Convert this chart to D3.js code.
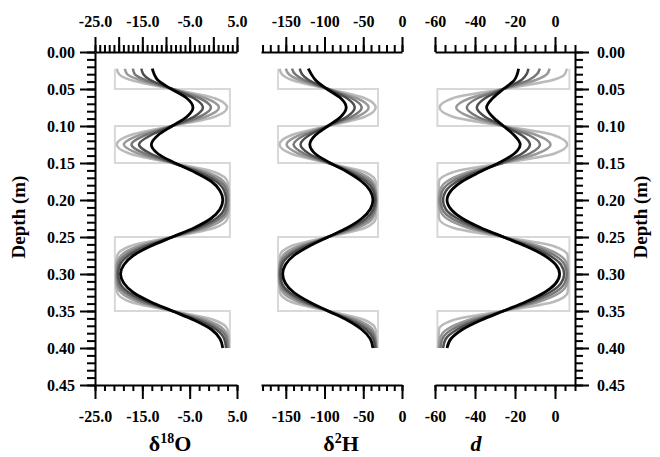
<!DOCTYPE html>
<html lang="en">
<head>
<meta charset="UTF-8">
<title>Isotope depth profiles</title>
<script src="https://d3js.org/d3.v7.min.js"></script>
<style>
  body { margin: 0; background: #fff; }
  svg { display: block; }
</style>
</head>
<body>
<div id="chart"></div>
<script>
// sample depths (m)
const depth = [0.0225, 0.03, 0.0375, 0.05, 0.0625, 0.075, 0.0875, 0.10, 0.1125, 0.125, 0.1375, 0.15,
  0.1625, 0.175, 0.1875, 0.20, 0.2125, 0.225, 0.2375, 0.25, 0.2625, 0.275, 0.2875, 0.30,
  0.3125, 0.325, 0.3375, 0.35, 0.3625, 0.375, 0.3875, 0.40];

// five profiles each, lightest (least smoothed) first, black last
const o18 = [
  [-20.4, -19.9, -17.6, -8.7, 0.3, 2.9, 0.3, -8.7, -17.6, -20.4, -17.6, -8.65, 0.3, 3.0, 3.3, 3.3, 3.3, 3.0, 0.3, -8.65, -17.6, -20.3, -20.6, -20.6, -20.6, -20.3, -17.6, -8.65, 0.3, 3.0, 3.3, 3.3],
  [-18.7, -18.2, -15.7, -8.7, -1.6, 1.2, -1.6, -8.7, -15.7, -18.9, -15.7, -8.65, -1.4, 2.2, 3.1, 3.2, 3.1, 2.2, -1.4, -8.65, -15.9, -19.5, -20.4, -20.5, -20.4, -19.5, -15.9, -8.65, -1.4, 2.2, 3.1, 3.2],
  [-17.0, -16.6, -14.5, -8.7, -2.9, -0.5, -2.9, -8.7, -14.4, -17.3, -14.4, -8.6, -2.4, 1.4, 2.8, 3.0, 2.8, 1.4, -2.4, -8.65, -14.9, -18.7, -20.1, -20.3, -20.1, -18.7, -14.9, -8.65, -2.4, 1.4, 2.8, 3.0],
  [-15.2, -14.8, -13.4, -8.7, -4.1, -2.2, -4.1, -8.7, -13.2, -15.7, -13.2, -8.4, -3.2, 0.6, 2.3, 2.7, 2.3, 0.6, -3.2, -8.65, -14.1, -17.9, -19.7, -20.1, -19.7, -17.9, -14.1, -8.65, -3.2, 0.6, 2.3, 2.7],
  [-12.9, -12.5, -11.8, -8.9, -5.6, -4.3, -5.6, -8.7, -11.7, -13.1, -11.7, -8.1, -3.9, -0.4, 1.4, 2.0, 1.4, -0.5, -4.0, -8.65, -13.3, -16.9, -18.9, -19.6, -18.9, -16.9, -13.3, -8.65, -4.0, -0.4, 1.4, 2.0]
];
const h2 = [
  [-158, -155, -143, -95.5, -48, -34, -48, -95.5, -143, -158, -143, -95.5, -47.5, -34, -33, -32.5, -33, -34, -47.5, -95.5, -143.5, -157.5, -158.5, -159, -158.5, -157.5, -143.5, -95.5, -47.5, -34, -33, -32.5],
  [-150, -146, -133, -95.5, -58, -43, -58, -95.5, -133, -149, -133, -95.5, -57, -38, -34, -33, -34, -38, -57, -95.5, -134, -153.5, -158, -158.5, -158, -153.5, -134, -95.5, -57, -38, -34, -33],
  [-142, -138, -127, -95.5, -65, -52, -65, -95.5, -126, -140, -126, -95, -62.5, -42, -35, -33.5, -35, -42, -62.5, -95.5, -128.5, -149, -157, -158, -157, -149, -128.5, -95.5, -62.5, -42, -35, -33.5],
  [-132, -129, -121, -95.5, -71, -61, -71, -95.5, -120, -131, -120, -94, -66.5, -46.5, -37, -34.5, -37, -46.5, -66.5, -95.5, -124.5, -145, -155, -157, -155, -145, -124.5, -95.5, -66.5, -46.5, -37, -34.5],
  [-121, -117, -112, -97, -79, -72, -79, -95.5, -112, -119, -112, -92.5, -70, -52, -41, -37.5, -41, -52, -70.5, -95.5, -120, -139.5, -150.5, -154, -150.5, -139.5, -120, -95.5, -70.5, -52, -41, -37.5]
];
const dex = [
  [5.9, 4.9, -0.7, -25.8, -51.1, -57.7, -51.1, -25.8, -0.5, 6.1, -0.5, -25.8, -51.1, -58.0, -58.2, -58.4, -58.2, -58.0, -51.1, -25.8, -0.5, 6.3, 6.6, 6.8, 6.6, 6.3, -0.5, -25.8, -51.1, -58.0, -58.2, -58.4],
  [-2.7, -4.0, -9.3, -25.8, -42.6, -49.4, -42.6, -25.8, -9.0, -2.2, -9.0, -25.9, -43.6, -54.1, -57.5, -58.0, -57.5, -54.1, -43.6, -25.8, -8.0, 2.5, 6.0, 6.5, 6.0, 2.5, -8.0, -25.8, -43.6, -54.1, -57.5, -58.0],
  [-7.6, -9.0, -12.9, -25.8, -38.7, -44.1, -38.7, -25.8, -12.9, -7.5, -12.9, -26.3, -41.0, -51.5, -56.3, -57.3, -56.3, -51.5, -40.9, -25.8, -10.7, -0.1, 4.8, 5.9, 4.8, -0.1, -10.7, -25.8, -40.9, -51.5, -56.3, -57.3],
  [-13.3, -14.2, -16.6, -25.8, -35.0, -39.1, -35.0, -25.8, -16.6, -12.5, -16.6, -27.0, -39.2, -49.0, -54.5, -56.0, -54.6, -48.9, -38.9, -25.8, -12.7, -2.7, 3.0, 4.6, 3.0, -2.7, -12.7, -25.8, -38.9, -48.9, -54.6, -56.0],
  [-18.2, -18.9, -20.2, -25.8, -31.2, -34.2, -31.2, -25.8, -20.4, -17.4, -20.4, -28.2, -37.9, -46.5, -52.0, -54.0, -52.0, -46.3, -37.1, -25.8, -14.5, -5.3, 0.4, 2.3, 0.4, -5.3, -14.5, -25.8, -37.1, -46.3, -52.0, -54.0]
];

// initial layered (step) profile
const layerDepth = [0.0225, 0.05, 0.10, 0.15, 0.25, 0.35, 0.40];
const layerO18 = [-20.8, 3.5, -20.8, 3.5, -20.8, 3.5];
const layerH2 = [-160, -31, -160, -31, -160, -31];
const layerD = [7.2, -58.8, 7.2, -58.8, 7.2, -58.8];

// tick labels
const o18Labels = [-25, -15, -5, 5];
const h2Labels = [-150, -100, -50, 0];
const dLabels = [-60, -40, -20, 0];
const depthLabels = [0, 0.05, 0.10, 0.15, 0.20, 0.25, 0.30, 0.35, 0.40, 0.45];

const shades = ["#bababa", "#999999", "#777777", "#4d4d4d", "#000000"];

const svg = d3.select("#chart").append("svg")
  .attr("width", 660).attr("height", 457)
  .attr("font-family", "'Liberation Serif', 'Times New Roman', serif")
  .attr("font-weight", "bold");

const y = d3.scaleLinear().domain([0, 0.45]).range([52, 385]);
const yTop = 52, yBot = 385;

const panels = [
  { data: o18, layers: layerO18, x: d3.scaleLinear().domain([-25, 5]).range([95, 237]),
    topMinor: d3.range(-25, 6, 1), topMajor: d3.range(-25, 6, 5), botMinor: d3.range(-25, 6, 2),
    botMajor: o18Labels, labels: o18Labels, fmt: d => d.toFixed(1) },
  { data: h2, layers: layerH2, x: d3.scaleLinear().domain([-182, 0]).range([261, 402]),
    topMinor: d3.range(-180, 1, 10), topMajor: h2Labels, botMinor: d3.range(-180, 1, 10),
    botMajor: h2Labels, labels: h2Labels, fmt: d => String(d) },
  { data: dex, layers: layerD, x: d3.scaleLinear().domain([-60, 10]).range([435, 575]),
    topMinor: d3.range(-60, 11, 5), topMajor: dLabels, botMinor: d3.range(-60, 11, 5),
    botMajor: dLabels, labels: dLabels, fmt: d => String(d) }
];

function drawAxis(g, gen, values, size, fmt, pad, keepDomain) {
  g.call(gen.tickValues(values).tickSize(size).tickSizeOuter(0).tickPadding(pad)
    .tickFormat(fmt || (() => "")));
  g.attr("font-family", null).attr("font-size", 16);
  g.selectAll("text").attr("fill", "#000");
  g.selectAll(".tick line").attr("stroke", "#000").attr("stroke-width", 2);
  if (keepDomain) g.select(".domain").attr("stroke", "#000").attr("stroke-width", 2);
  else g.select(".domain").remove();
}

panels.forEach(p => {
  const x = p.x;
  // step profile
  const steps = [];
  p.layers.forEach((v, i) => {
    steps.push([v, layerDepth[i]], [v, layerDepth[i + 1]]);
  });
  svg.append("path")
    .attr("d", d3.line().x(d => x(d[0])).y(d => y(d[1]))(steps))
    .attr("fill", "none").attr("stroke", "#d8d8d8").attr("stroke-width", 2);

  const line = d3.line().x(d => x(d[0])).y(d => y(d[1])).curve(d3.curveMonotoneY);
  p.data.forEach((vals, k) => {
    svg.append("path")
      .attr("d", line(vals.map((v, i) => [v, depth[i]])))
      .attr("fill", "none")
      .attr("stroke", shades[k])
      .attr("stroke-width", k === 4 ? 2.8 : 2.5);
  });

  const top = svg.append("g").attr("transform", `translate(0,${yTop})`);
  drawAxis(top.append("g"), d3.axisTop(x), p.topMinor, 7, null, 0, false);
  drawAxis(top.append("g"), d3.axisTop(x), p.topMajor, 15,
    d => p.labels.includes(d) ? p.fmt(d) : "", 10, true);

  const bot = svg.append("g").attr("transform", `translate(0,${yBot})`);
  drawAxis(bot.append("g"), d3.axisBottom(x), p.botMinor, 6, null, 0, false);
  drawAxis(bot.append("g"), d3.axisBottom(x), p.botMajor, 14, p.fmt, 12, true);
});

// depth axes
const minorDepth = d3.range(0, 46).map(i => i / 100);
const left = svg.append("g").attr("transform", "translate(95,0)");
drawAxis(left.append("g"), d3.axisLeft(y), minorDepth, 8, null, 0, false);
drawAxis(left.append("g"), d3.axisLeft(y), depthLabels, 15, d => d.toFixed(2), 5, true);

const right = svg.append("g").attr("transform", "translate(575,0)");
drawAxis(right.append("g"), d3.axisRight(y), minorDepth, 8, null, 0, false);
drawAxis(right.append("g"), d3.axisRight(y), depthLabels, 14, d => d.toFixed(2), 8, true);

// axis titles
svg.append("text").attr("transform", "translate(25,217) rotate(-90)")
  .attr("text-anchor", "middle").attr("font-size", 19).text("Depth (m)");
svg.append("text").attr("transform", "translate(647,217) rotate(-90)")
  .attr("text-anchor", "middle").attr("font-size", 19).text("Depth (m)");

const t1 = svg.append("text").attr("x", 170).attr("y", 451)
  .attr("text-anchor", "middle").attr("font-size", 22);
t1.append("tspan").text("\u03b4");
t1.append("tspan").attr("dy", -8).attr("font-size", 14).text("18");
t1.append("tspan").attr("dy", 8).text("O");

const t2 = svg.append("text").attr("x", 341).attr("y", 451)
  .attr("text-anchor", "middle").attr("font-size", 22);
t2.append("tspan").text("\u03b4");
t2.append("tspan").attr("dy", -8).attr("font-size", 14).text("2");
t2.append("tspan").attr("dy", 8).text("H");

svg.append("text").attr("x", 476).attr("y", 451)
  .attr("text-anchor", "middle").attr("font-size", 22).attr("font-style", "italic").text("d");
</script>
</body>
</html>
